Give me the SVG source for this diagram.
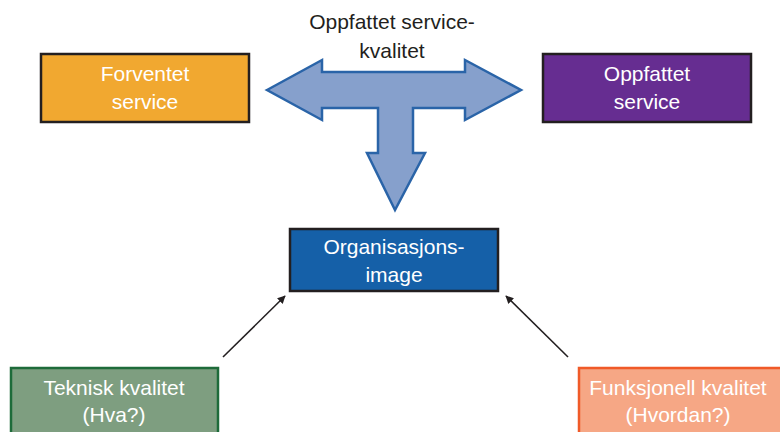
<svg xmlns="http://www.w3.org/2000/svg" width="780" height="432" viewBox="0 0 780 432">
<defs>
<style>
.t{font-family:"Liberation Sans","DejaVu Sans",sans-serif;font-size:21px;text-anchor:middle;}
.w{fill:#ffffff;}
.k{fill:#231f20;}
.box{stroke:#231f20;stroke-width:2.5;}
.conn{stroke:#231f20;stroke-width:1.6;fill:none;marker-end:url(#ah);}
</style>
<marker id="ah" viewBox="0 0 10 10" refX="9" refY="5" markerWidth="8" markerHeight="8" markerUnits="userSpaceOnUse" orient="auto">
<path d="M0,0 L10,5 L0,10 Z" fill="#231f20"/>
</marker>
</defs>
<rect width="780" height="432" fill="#ffffff"/>
<g id="title">
<text class="t k" x="392" y="29">Oppfattet service-</text>
<text class="t k" x="392" y="58">kvalitet</text>
</g>
<g id="tarrow">
<path d="M267,90 L322,60 L322,72 L465,72 L465,60 L521,90 L465,120 L465,108 L413,108 L413,153 L425,153 L395,210 L367,153 L378,153 L378,108 L322,108 L322,120 Z" fill="#86a0cc" stroke="#2a64a8" stroke-width="2.5" stroke-linejoin="miter"/>
</g>
<g id="forventet">
<rect class="box" x="41" y="54" width="208" height="68" fill="#f1a830"/>
<text class="t w" x="145" y="81">Forventet</text>
<text class="t w" x="145" y="109">service</text>
</g>
<g id="oppfattet">
<rect class="box" x="543" y="54" width="208" height="68" fill="#662d91"/>
<text class="t w" x="647" y="81">Oppfattet</text>
<text class="t w" x="647" y="109">service</text>
</g>
<g id="organisasjon">
<rect class="box" x="290" y="229" width="208" height="62" fill="#1560a8"/>
<text class="t w" x="394" y="254">Organisasjons-</text>
<text class="t w" x="394" y="282">image</text>
</g>
<g id="teknisk">
<rect x="11" y="368" width="207" height="70" fill="#7e9e80" stroke="#1e6b3a" stroke-width="2.5"/>
<text class="t w" x="114" y="395">Teknisk kvalitet</text>
<text class="t w" x="114" y="422">(Hva?)</text>
</g>
<g id="funksjonell">
<rect x="579" y="368" width="210" height="70" fill="#f6a785" stroke="#f05a28" stroke-width="2.5"/>
<text class="t w" x="678" y="395">Funksjonell kvalitet</text>
<text class="t w" x="678" y="422">(Hvordan?)</text>
</g>
<g id="connectors">
<line class="conn" x1="223" y1="357" x2="285" y2="296"/>
<line class="conn" x1="568" y1="357" x2="506" y2="296"/>
</g>
</svg>
